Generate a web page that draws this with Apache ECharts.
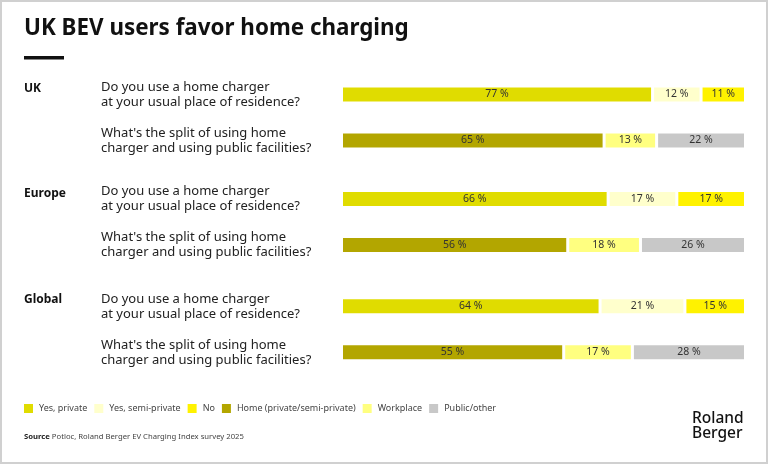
<!DOCTYPE html>
<html>
<head>
<meta charset="utf-8">
<script src="https://cdn.jsdelivr.net/npm/echarts@6/dist/echarts.min.js"></script>
<style>html,body{margin:0;padding:0;background:#fff}#c{width:768px;height:464px}</style>
</head>
<body>
<div id="c"></div>
<script>
const regions = ['UK', 'Europe', 'Global'];
const questions = [
  'Do you use a home charger\nat your usual place of residence?',
  "What's the split of using home\ncharger and using public facilities?"
];
const seriesNames = ['Yes, private', 'Yes, semi-private', 'No', 'Home (private/semi-private)', 'Workplace', 'Public/other'];
const colors = ['#E0DC00', '#FFFFCC', '#FFF200', '#B3A600', '#FFFF80', '#C8C8C8'];
// Question 1 values per region: Yes private, Yes semi-private, No
const chargerUse = {
  UK: [77, 12, 11],
  Europe: [66, 17, 17],
  Global: [64, 21, 15]
};
// Question 2 values per region: Home, Workplace, Public/other
const chargingSplit = {
  UK: [65, 13, 22],
  Europe: [56, 18, 26],
  Global: [55, 17, 28]
};

const gridTops = [71.5, 176, 283.3];
const grids = [], xAxes = [], yAxes = [], series = [];
regions.forEach((r, gi) => {
  grids.push({ left: 341.5, right: 22.5, top: gridTops[gi], height: 92 });
  xAxes.push({ gridIndex: gi, type: 'value', min: 0, max: 100, show: false });
  yAxes.push({
    gridIndex: gi, type: 'category', data: questions, inverse: true,
    axisLine: { show: false }, axisTick: { show: false }, splitLine: { show: false },
    axisLabel: {
      align: 'left', margin: 240.5, color: '#222', fontSize: 13, lineHeight: 15,
      fontFamily: 'Noto Sans'
    }
  });
  seriesNames.forEach((name, si) => {
    const q = si < 3 ? 0 : 1;
    const v = q === 0 ? chargerUse[r][si] : chargingSplit[r][si - 3];
    const data = q === 0 ? [v, null] : [null, v];
    series.push({
      name, type: 'bar', stack: 's' + gi, xAxisIndex: gi, yAxisIndex: gi,
      barWidth: 17, data,
      itemStyle: { color: colors[si], borderColor: '#fff', borderWidth: 1.5 },
      label: {
        show: true, position: 'inside', color: '#333', fontSize: 10.5,
        fontFamily: 'Noto Sans', formatter: p => p.value + ' %'
      },
      emphasis: { disabled: true }
    });
  });
});

const chart = echarts.init(document.getElementById('c'), null, { renderer: 'canvas' });
chart.setOption({
  animation: false,
  backgroundColor: '#fff',
  grid: grids, xAxis: xAxes, yAxis: yAxes, series,
  legend: {
    data: seriesNames, left: 17, top: 397, icon: 'rect', itemWidth: 11, itemHeight: 11,
    itemGap: 5, selectedMode: false,
    textStyle: { color: '#444', fontSize: 9, fontFamily: 'Noto Sans' }
  },
  graphic: [
    { type: 'rect', shape: { x: 1, y: 1, width: 766, height: 462 }, style: { fill: 'none', stroke: '#d0d0d0', lineWidth: 2 }, silent: true },
    { type: 'text', left: 24, top: 18, style: { text: 'UK BEV users favor home charging', font: 'bold 22.4px "Noto Sans"', fill: '#111' } },
    { type: 'rect', shape: { x: 24, y: 56, width: 40, height: 3.5 }, style: { fill: '#111' } },
    { type: 'text', left: 24, top: 82.5, style: { text: regions[0], font: 'bold 12px "Noto Sans"', fill: '#111' } },
    { type: 'text', left: 24, top: 187.5, style: { text: regions[1], font: 'bold 12px "Noto Sans"', fill: '#111' } },
    { type: 'text', left: 24, top: 293.5, style: { text: regions[2], font: 'bold 12px "Noto Sans"', fill: '#111' } },
    { type: 'text', left: 24, top: 432.5, style: {
      text: '{b|Source} Potloc, Roland Berger EV Charging Index survey 2025',
      rich: { b: { fontWeight: 'bold', fontSize: 7.7, fontFamily: 'Noto Sans', fill: '#222' } },
      fontSize: 7.7, fontFamily: 'Noto Sans', fill: '#444' } },
    { type: 'text', left: 692, top: 411, style: { text: 'Roland\nBerger', font: '500 15.5px "Noto Sans"', lineHeight: 14.5, fill: '#111' } }
  ]
});
</script>
</body>
</html>
